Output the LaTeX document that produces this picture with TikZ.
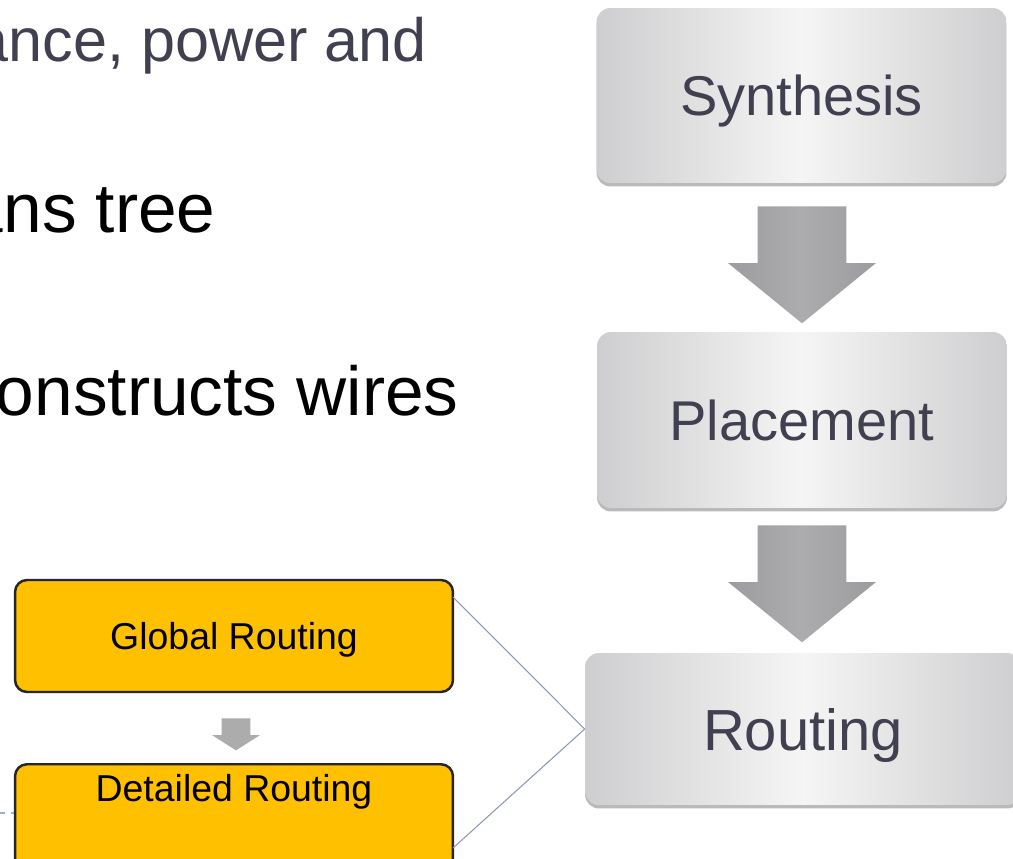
\documentclass[tikz,border=0pt]{standalone}
\usepackage{fontspec}
\setmainfont{Liberation Sans}
\usepackage{tikz}
\usetikzlibrary{shapes.arrows, shadows}

\definecolor{inkgray}{RGB}{64,64,80}
\definecolor{boxedge}{RGB}{206,206,208}
\definecolor{boxmid}{RGB}{245,245,245}
\definecolor{arrowedge}{RGB}{156,156,158}
\definecolor{arrowmid}{RGB}{172,172,174}
\definecolor{routegold}{RGB}{255,192,0}
\definecolor{linkblue}{RGB}{140,152,190}

\begin{document}
\begin{tikzpicture}[x=0.02cm, y=-0.02cm,
  flowbox/.style={rounded corners=0.28cm, left color=boxedge, right color=boxedge, middle color=boxmid,
    text=inkgray, minimum width=8.2cm, text height=23pt, text depth=0pt,
    font=\fontsize{31.9}{38}\selectfont,
    drop shadow={shadow xshift=0pt, shadow yshift=-0.07cm, opacity=0.45, fill=gray!80!black}},
  goldbox/.style={draw=black!85, line width=1.4pt, fill=routegold, rounded corners=0.24cm,
    minimum width=8.76cm, font=\fontsize{21.3}{26}\selectfont},
  bigarrow/.style={single arrow, rotate=-90, anchor=tail, inner xsep=0pt, inner ysep=0.88cm,
    single arrow head extend=0.59cm, single arrow tip angle=101.6, minimum height=2.34cm,
    left color=arrowedge, right color=arrowedge, middle color=arrowmid},
  smallarrow/.style={single arrow, rotate=-90, anchor=tail, inner xsep=0pt, inner ysep=0.28cm,
    single arrow head extend=0.19cm, single arrow tip angle=115, minimum height=0.64cm,
    fill=gray!65},
  bullet/.style={anchor=base east, inner sep=0pt, font=\fontsize{39.5}{46}\selectfont},
  brace/.style={draw=linkblue, line width=0.6pt}]

\clip (0,0) rectangle (1013,858);
\fill[white] (0,0) rectangle (1013,858);

% Text lines
\node[bullet, text=inkgray, font=\fontsize{34.8}{40}\selectfont] (bul1) at (427,62) {ance, power and};
\node[bullet] (bul2) at (216,232) {ans tree};
\node[bullet] (bul3) at (459,415) {onstructs wires};

% Flow
\node[flowbox, minimum height=3.5cm] (syn) at (801.5,95.5) {Synthesis};
\node[flowbox, minimum height=3.52cm] (pla) at (802,420) {Placement};
\node[flowbox, minimum height=3.04cm, minimum width=8.72cm, text height=24pt,
  font=\fontsize{33}{40}\selectfont] (rou) at (803,729) {Routing};
\node[bigarrow] (arr1) at (802,206) {};
\node[bigarrow] (arr2) at (802,525) {};

% Routing steps
\node[goldbox, minimum height=2.24cm, text height=15pt, text depth=0pt] (glob) at (234,636) {Global Routing};
\node[goldbox, anchor=north, text height=15pt, text depth=36pt, inner ysep=6pt] (det) at (234,763) {Detailed Routing};
\node[smallarrow] (arr3) at (236,718) {};

\coordinate (upend) at (453,597);
\coordinate (lowend) at (453,848);
\draw[brace] (upend) -- (rou.west) -- (lowend);

\draw[dashed, draw=linkblue!80, line width=0.6pt] (0,813) -- (14,813);

\end{tikzpicture}
\end{document}
